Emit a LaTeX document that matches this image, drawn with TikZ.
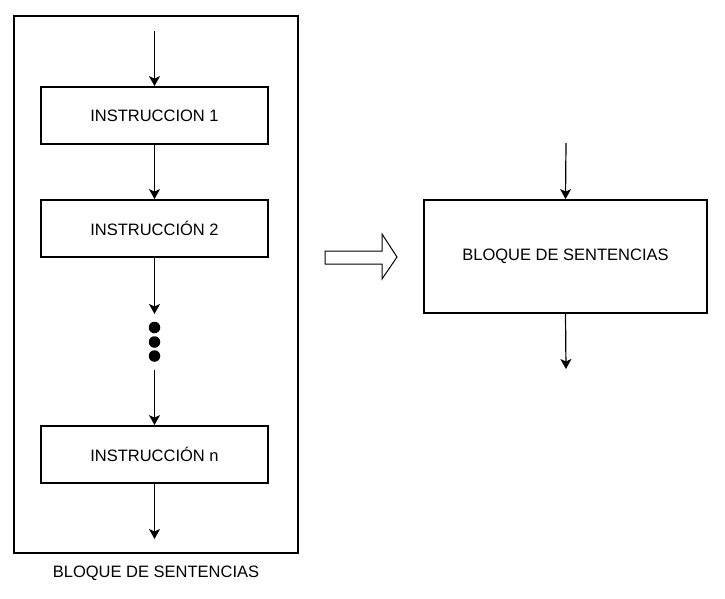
\documentclass[tikz,border=0pt]{standalone}
\usepackage{fontspec}
\setmainfont{Liberation Sans}
\usetikzlibrary{arrows.meta}
\begin{document}
\begin{tikzpicture}[x=1pt,y=-1pt,
  txt/.style={font=\fontsize{16.5}{19}\selectfont},
  instbox/.style={draw, line width=1.8pt, minimum width=227pt, minimum height=57pt, inner sep=0pt, txt},
  outerbox/.style={draw, line width=1.8pt, minimum width=284pt, minimum height=537pt, inner sep=0pt},
  bigbox/.style={draw, line width=1.8pt, minimum width=283pt, minimum height=113pt, inner sep=0pt, txt},
  flow/.style={line width=1.2pt, -{Stealth[length=10pt,width=11pt,inset=2.5pt]}},
  dotc/.style={circle, fill=black, minimum size=11.5pt, inner sep=0pt},
  hollow/.style={draw, line width=1pt, fill=white, line join=miter}
]
\useasboundingbox (0,0) rectangle (725,599);
\fill[white] (0,0) rectangle (725,599);

% left block
\node[outerbox] (outer) at (156,284.5) {};
\node[instbox] (b1) at (154.5,115.5) {INSTRUCCION 1};
\node[instbox] (b2) at (154.5,228.5) {INSTRUCCIÓN 2};
\node[instbox] (bn) at (154.5,454.5) {INSTRUCCIÓN n};
\node[txt] (lbl) at (156,573) {BLOQUE DE SENTENCIAS};

\coordinate (in1) at (154.5,31);
\coordinate (d1) at (154.5,314);
\coordinate (d2) at (154.5,370);
\coordinate (outl) at (154.5,539);
\node[dotc] (p1) at (154.5,327.5) {};
\node[dotc] (p2) at (154.5,342) {};
\node[dotc] (p3) at (154.5,356) {};

\draw[flow] (in1) -- (b1.north);
\draw[flow] (b1.south) -- (b2.north);
\draw[flow] (b2.south) -- (d1);
\draw[flow] (d2) -- (bn.north);
\draw[flow] (bn.south) -- (outl);

% hollow arrow
\draw[hollow] (325,251) -- (382,251) -- (382,234) -- (397,257) -- (382,279) -- (382,264) -- (325,264) -- cycle;

% right block
\node[bigbox] (rb) at (565.5,256.5) {BLOQUE DE SENTENCIAS};
\coordinate (rin) at (566,143);
\coordinate (rout) at (566,369);
\draw[flow] (rin) -- (rb.north);
\draw[flow] (rb.south) -- (rout);
\end{tikzpicture}
\end{document}
